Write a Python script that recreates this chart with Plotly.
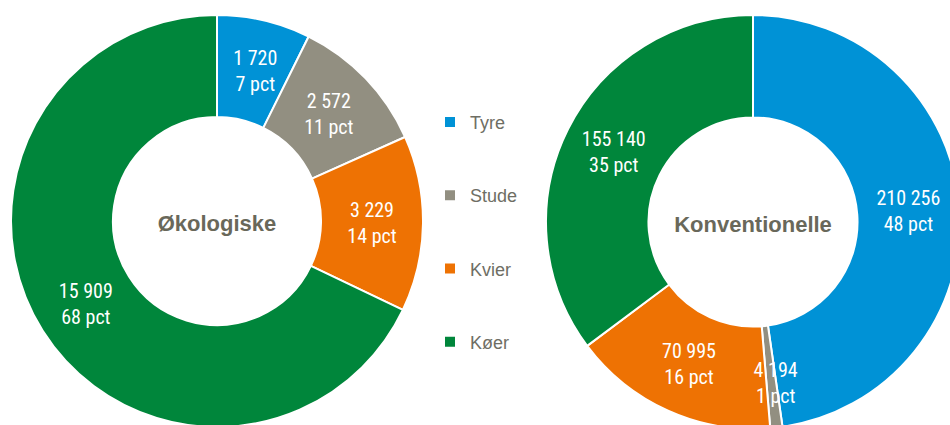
import plotly.graph_objects as go

categories = ["Tyre", "Stude", "Kvier", "Køer"]
oko_values = [1720, 2572, 3229, 15909]
konv_values = [210256, 4194, 70995, 155140]
colors = ["#0092D6", "#928F81", "#EE7203", "#00863B"]
titles = ["Økologiske", "Konventionelle"]

# figure is a little larger than the 950x425 window so the right donut can run off the edge
W, H = 975, 445
NB = "\u00a0"

# label padding (blank lines above / below) used only to nudge a label inside its slice
PAD = {("oko", 0): (1, 0), ("konv", 1): (0, 3)}

def fmt(v):
    return f"{v:,}".replace(",", " ")

def labels_for(key, vals):
    s = sum(vals)
    out = []
    for i, v in enumerate(vals):
        p = round(v / s * 100)
        above, below = PAD.get((key, i), (0, 0))
        t = f"{NB}<br>" * above + f"{fmt(v)}<br>{p} pct" + f"<br>{NB}" * below
        out.append(t)
    return out

label_font = dict(family="Liberation Sans Narrow, Arial Narrow, Roboto Condensed, Liberation Sans, sans-serif",
                  size=20, color="white")

fig = go.Figure()

def domain_for(cx, cy, r):
    return dict(x=[(cx - r) / W, (cx + r) / W], y=[(H - cy - r) / H, (H - cy + r) / H])

def add_donut(key, vals, title, cx, cy, r):
    dom = domain_for(cx, cy, r)
    common = dict(values=vals, sort=False, direction="clockwise", rotation=0, hole=0.505,
                  hoverinfo="skip", domain=dom)
    # coloured ring with legend and centre title
    fig.add_trace(go.Pie(
        labels=[f"{NB}<br>{c}<br>{NB}" for c in categories], textinfo="none",
        marker=dict(colors=colors, line=dict(color="white", width=2)),
        title=dict(text=f"<b>{title}</b>", position="middle center",
                   font=dict(family="Liberation Sans, Arial, sans-serif", size=22, color="#69685A")),
        **common,
    ))
    # transparent copy on top carrying the value labels, so no slice hides a label
    fig.add_trace(go.Pie(
        labels=categories, text=labels_for(key, vals), textinfo="text",
        textposition="inside", insidetextorientation="horizontal",
        marker=dict(colors=["rgba(0,0,0,0)"] * len(vals), line=dict(width=0)),
        textfont=label_font, showlegend=False,
        **common,
    ))

add_donut("oko", oko_values, titles[0], 217, 221, 206)
add_donut("konv", konv_values, titles[1], 753, 222, 207)

fig.update_layout(
    width=W, height=H, margin=dict(l=0, r=0, t=0, b=0),
    paper_bgcolor="white", plot_bgcolor="white",
    uniformtext=dict(minsize=20, mode="show"),
    legend=dict(x=430 / W, y=(H - 232) / H, xanchor="left", yanchor="middle",
                font=dict(family="Liberation Sans Narrow, Arial Narrow, Liberation Sans, sans-serif", size=18, color="#6E6E64"),
                traceorder="normal", itemwidth=30, valign="middle"),
)

fig.write_html("out.html", config={"displayModeBar": False},
               post_script="document.body.style.margin='0';document.body.style.overflow='hidden';")
